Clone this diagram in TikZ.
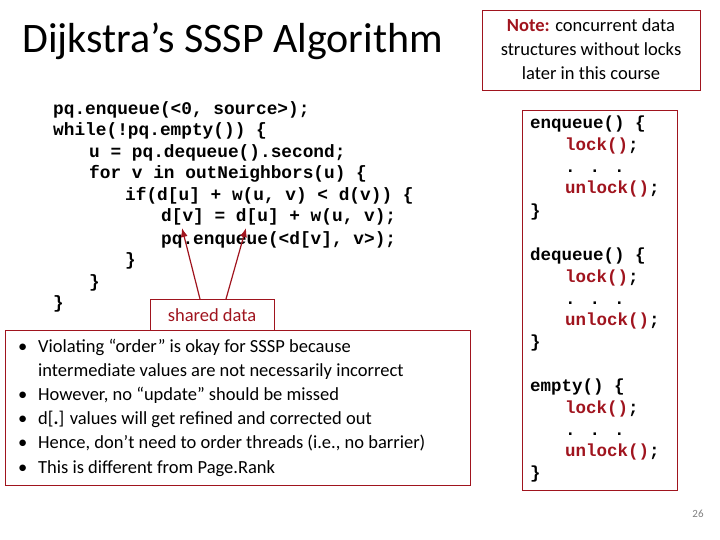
\documentclass[tikz,border=0pt]{standalone}
\usepackage{fontspec}
\usetikzlibrary{arrows.meta}
\setmainfont{Carlito}
\newfontfamily\codef{Liberation Mono}
\definecolor{dred}{RGB}{160,20,30}
\begin{document}
\begin{tikzpicture}[x=1pt,y=-1pt,
  cl/.style={anchor=base west,inner sep=0pt,font=\codef\bfseries\fontsize{17.8}{17.8}\selectfont},
  rc/.style={anchor=base west,inner sep=0pt,font=\codef\bfseries\fontsize{17.5}{17.5}\selectfont},
  bl/.style={anchor=base west,inner sep=0pt,font=\fontsize{18.5}{18.5}\selectfont},
  frame/.style={draw=dred,line width=0.8pt}]
\useasboundingbox (0,0) rectangle (720,540);
\node[anchor=base west,inner sep=0pt,font=\fontsize{42}{42}\selectfont] (title) at (22,53) {Dijkstra’s SSSP Algorithm};
% code
\node[cl] (c1) at (53,115) {pq.enqueue(<0, source>);};
\node[cl] (c2) at (53,136) {while(!pq.empty()) \{};
\node[cl] (c3) at (89,158) {u = pq.dequeue().second;};
\node[cl] (c4) at (89,179) {for v in outNeighbors(u) \{};
\node[cl] (c5) at (125,201) {if(d[u] + w(u, v) < d(v)) \{};
\node[cl] (c6) at (161,222) {d[v] = d[u] + w(u, v);};
\node[cl] (c7) at (161,244) {pq.enqueue(<d[v], v>);};
\node[cl] (c8) at (125,265) {\}};
\node[cl] (c9) at (89,287) {\}};
\node[cl] (c10) at (53,308) {\}};
% note box
\draw[frame] (482,10) rectangle (700,90);
\node[align=center,font=\fontsize{18.5}{24}\selectfont] (note) at (591,49) {\textcolor{dred}{\textbf{Note:}} concurrent data\\structures without locks\\later in this course};
% right code box
\draw[frame] (522,110) rectangle (677,490);
\foreach \n/\y in {enqueue/124,dequeue/255,empty/386}{
  \node[rc] (\n h) at (530,\y+5) {\n() \{};
  \node[rc,text=dred] (\n l) at (565,\y+27) {lock()\textcolor{black}{;}};
  \node[rc] (\n d) at (565,\y+49) {. . .};
  \node[rc,text=dred] (\n u) at (565,\y+70) {unlock()\textcolor{black}{;}};
  \node[rc] (\n c) at (530,\y+92) {\}};
}
% bullets box
\draw[frame] (5,330) rectangle (470,485);
\draw[frame,fill=white] (150,299) rectangle (274,330);
\node[font=\fontsize{18.5}{18.5}\selectfont,text=dred] (sd) at (212,315) {shared data};
\coordinate (a1) at (182,228);
\coordinate (a2) at (246,228);
\draw[dred,line width=1.2pt,-{Latex[length=9pt,width=7pt]}] (200,299) -- (a1);
\draw[dred,line width=1.2pt,-{Latex[length=9pt,width=7pt]}] (226,299) -- (a2);
\foreach \t/\y [count=\i] in {{Violating “order” is okay for SSSP because}/352,{However, no “update” should be missed}/400,{d[\textbf{.}] values will get refined and corrected out}/424,{Hence, don’t need to order threads (i.e., no barrier)}/448,{This is different from Page.Rank}/473}{
  \node[bl] (b\i) at (18,\y) {•};
  \node[bl] (t\i) at (38,\y) {\t};
}
\node[bl] (t1b) at (38,376) {intermediate values are not necessarily incorrect};
\node[font=\fontsize{11}{11}\selectfont,text=gray] (pg) at (698,514) {26};
\end{tikzpicture}
\end{document}
